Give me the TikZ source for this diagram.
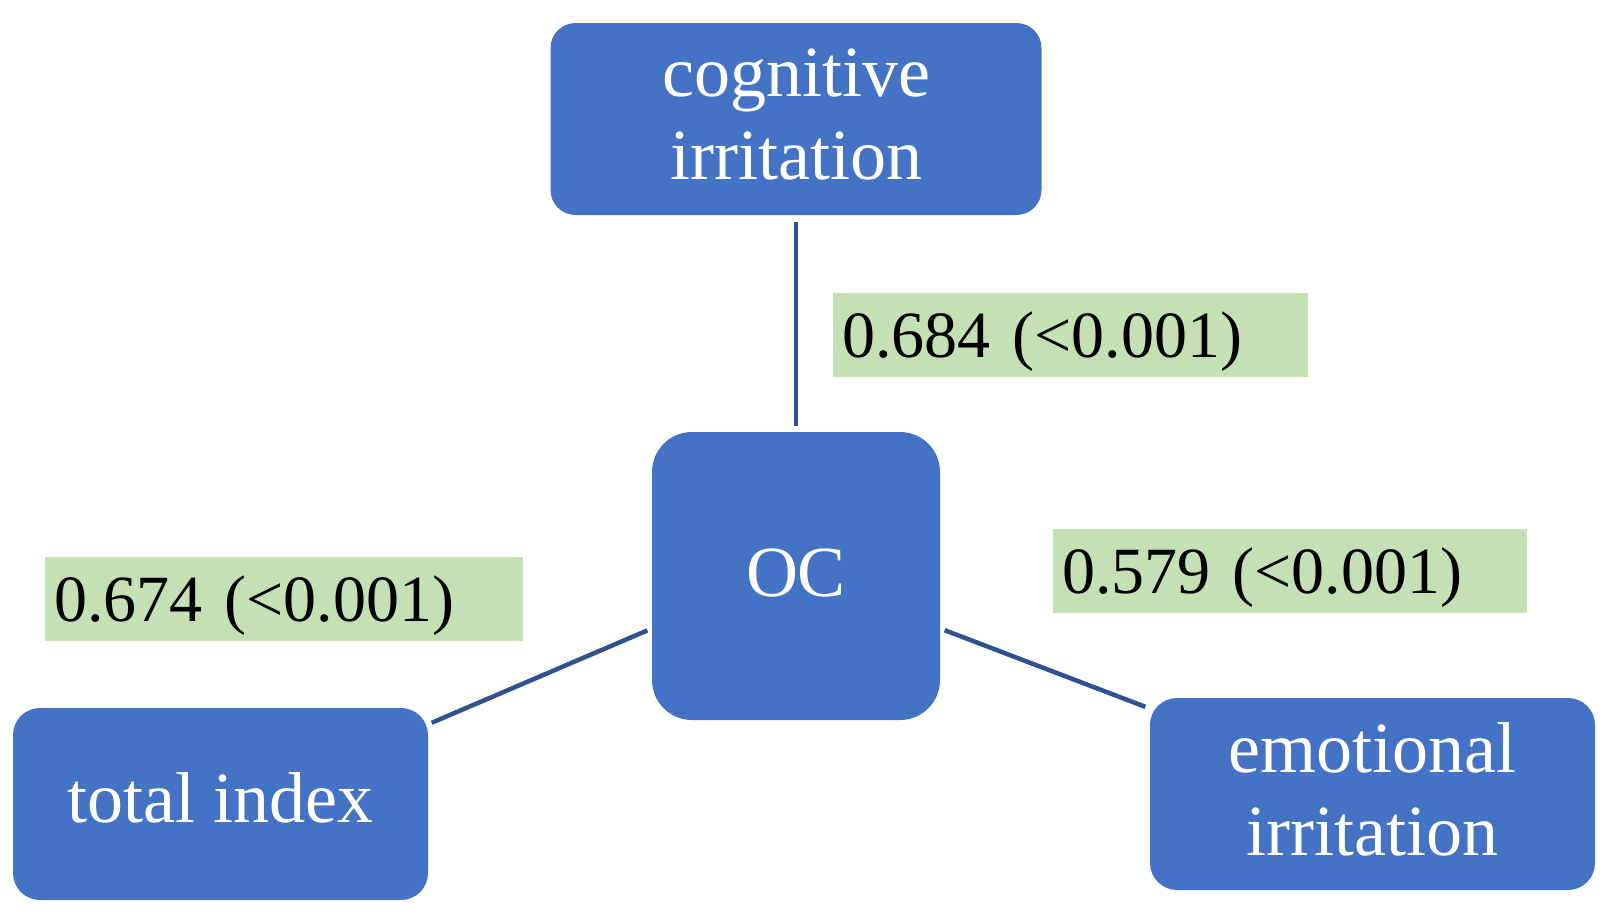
\documentclass[tikz,border=0pt]{standalone}
\usepackage{fontspec}
\setmainfont{Liberation Serif}
\definecolor{boxblue}{HTML}{4472C4}
\definecolor{labgreen}{HTML}{C5E0B4}
\definecolor{linkblue}{HTML}{2F528F}
\begin{document}
\begin{tikzpicture}[x=1pt,y=-1pt,
  box/.style={draw=none, fill=boxblue, text=white, align=center,
    inner sep=0pt, outer sep=0pt, font=\fontsize{72}{83}\selectfont},
  lab/.style={draw=none, fill=labgreen, text=black, align=left,
    inner xsep=9pt, inner ysep=0pt, outer sep=0pt, minimum height=84pt,
    text depth=0pt, font=\fontsize{66}{78}\selectfont},
  conn/.style={draw=linkblue, line width=4.5pt}]
\useasboundingbox (0,0) rectangle (1619,922);
\node[box, minimum width=491pt, minimum height=192pt, rounded corners=25pt, text depth=9pt] (cog) at (796,119) {cognitive\\irritation};
\node[box, minimum width=288pt, minimum height=288pt, rounded corners=40pt, text depth=7pt] (oc) at (796,576) {OC};
\node[box, minimum width=415pt, minimum height=192pt, rounded corners=27pt, text depth=13pt] (tot) at (220.5,804) {total index};
\node[box, minimum width=445pt, minimum height=192pt, rounded corners=27pt, text depth=10pt] (emo) at (1372.5,794) {emotional\\irritation};
\node[lab, text width=457pt] (l1) at (1070.5,335) {0.684 (<0.001)};
\node[lab, text width=460pt] (l2) at (284,598.5) {0.674 (<0.001)};
\node[lab, text width=456pt] (l3) at (1290,571) {0.579 (<0.001)};
\draw[conn, shorten <=7pt, shorten >=6pt] (cog.south) -- (oc.north);
\draw[conn, shorten <=5pt, shorten >=4pt] (oc.200.9) -- (tot.21.2);
\draw[conn, shorten <=5pt, shorten >=5pt] (oc.-20.6) -- (emo.159.3);
\end{tikzpicture}
\end{document}
